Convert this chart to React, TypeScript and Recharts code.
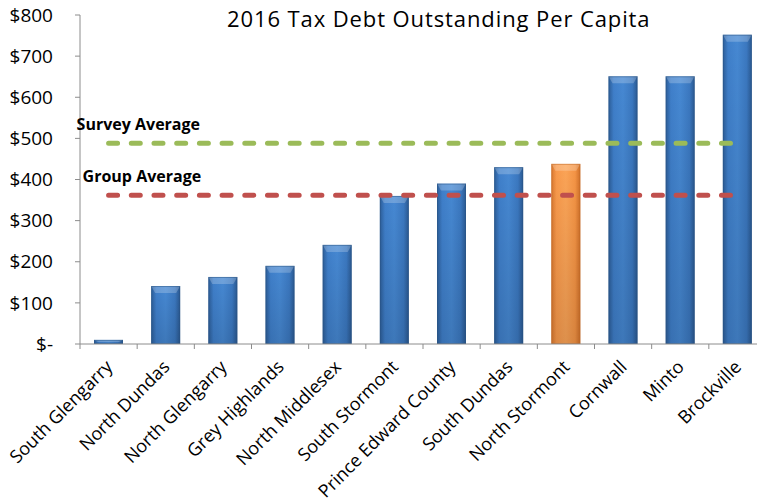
import { Bar, ComposedChart, Line, XAxis, YAxis } from 'recharts'

const towns = [
  'South Glengarry',
  'North Dundas',
  'North Glengarry',
  'Grey Highlands',
  'North Middlesex',
  'South Stormont',
  'Prince Edward County',
  'South Dundas',
  'North Stormont',
  'Cornwall',
  'Minto',
  'Brockville',
]
const debtPerCapita = [10, 141, 163, 190, 241, 360, 390, 430, 438, 651, 651, 752]
const surveyAverage = 488
const groupAverage = 362
const highlightTown = 'North Stormont'
const yTicks = [0, 100, 200, 300, 400, 500, 600, 700, 800]

const data = towns.map((town, i) => ({
  town,
  debt: debtPerCapita[i],
  survey: surveyAverage,
  group: groupAverage,
}))

const FONT = '"Open Sans", sans-serif'
const AXIS = '#8c8c8c'

function GlossyBar(props: any) {
  const { x, y, width, height, payload } = props
  if (!height || height <= 0) return <g />
  const hi = payload.town === highlightTown
  const bevel = Math.min(7, height / 2)
  return (
    <g>
      <rect x={x} y={y} width={width} height={height} fill={hi ? 'url(#orangeH)' : 'url(#blueH)'} />
      <rect x={x} y={y} width={width} height={height} fill="url(#shadeV)" />
      <polygon
        points={`${x},${y} ${x + width},${y} ${x + width - 4},${y + bevel} ${x + 4},${y + bevel}`}
        fill="#ffffff"
        opacity={0.22}
      />
      <rect x={x + 0.5} y={y + 0.5} width={width - 1} height={height - 1} fill="none" stroke={hi ? '#c06a25' : '#2a5585'} strokeOpacity={0.5} />
    </g>
  )
}

function TownTick(props: any) {
  const { x, y, payload, index } = props
  const half = payload.offset || 28.6
  const last = index === towns.length - 1
  const ax = x + 5
  const ay = y + 24
  return (
    <g>
      <line x1={x - half} y1={y} x2={x - half} y2={y + 5} stroke={AXIS} />
      {last && <line x1={x + half} y1={y} x2={x + half} y2={y + 5} stroke={AXIS} />}
      <text
        x={ax}
        y={ay}
        transform={`rotate(-45, ${ax}, ${ay})`}
        textAnchor="end"
        fontFamily={FONT}
        fontSize={18}
        fill="#000"
      >
        {payload.value}
      </text>
    </g>
  )
}

function averageTag(text: string, dx: number) {
  return (p: any) =>
    p.index === 0 ? (
      <text x={p.x + dx} y={p.y - 13} fontFamily={FONT} fontWeight={700} fontSize={16} fill="#000">
        {text}
      </text>
    ) : (
      <g />
    )
}

export default function App() {
  return (
    <div style={{ position: 'absolute', left: 0, top: 0, width: 757, height: 504, overflow: 'hidden', background: '#fff' }}>
      <svg width={0} height={0} style={{ position: 'absolute' }}>
        <defs>
          <linearGradient id="blueH" x1="0" y1="0" x2="1" y2="0">
            <stop offset="0%" stopColor="#2c5d98" />
            <stop offset="18%" stopColor="#3f7fca" />
            <stop offset="50%" stopColor="#4688d2" />
            <stop offset="82%" stopColor="#3b78c0" />
            <stop offset="100%" stopColor="#2a5890" />
          </linearGradient>
          <linearGradient id="orangeH" x1="0" y1="0" x2="1" y2="0">
            <stop offset="0%" stopColor="#d9782f" />
            <stop offset="18%" stopColor="#f99a4c" />
            <stop offset="50%" stopColor="#fba457" />
            <stop offset="82%" stopColor="#f49445" />
            <stop offset="100%" stopColor="#cf6f28" />
          </linearGradient>
          <linearGradient id="shadeV" x1="0" y1="0" x2="0" y2="1">
            <stop offset="0%" stopColor="#000" stopOpacity={0} />
            <stop offset="100%" stopColor="#000" stopOpacity={0.12} />
          </linearGradient>
        </defs>
      </svg>
      <div
        style={{
          position: 'absolute',
          left: 227,
          top: 3,
          whiteSpace: 'nowrap',
          fontFamily: FONT,
          fontSize: 22,
          letterSpacing: 0.9,
          color: '#000',
          zIndex: 2,
        }}
      >
        2016 Tax Debt Outstanding Per Capita
      </div>
      <ComposedChart width={770} height={504} data={data} margin={{ top: 15, right: 4, left: 0, bottom: 0 }}>
        <XAxis
          dataKey="town"
          height={160}
          interval={0}
          tickLine={false}
          tickSize={0}
          tickMargin={0}
          axisLine={{ stroke: AXIS }}
          tick={<TownTick />}
        />
        <YAxis
          width={80}
          domain={[0, 800]}
          ticks={yTicks}
          interval={0}
          tickSize={5}
          tickMargin={22}
          axisLine={{ stroke: AXIS }}
          tickLine={{ stroke: AXIS }}
          tick={{ fontFamily: FONT, fontSize: 19, fill: '#000' }}
          tickFormatter={(v: number) => (v === 0 ? '$-' : `$${v}`)}
        />
        <Bar dataKey="debt" barSize={29} shape={<GlossyBar />} isAnimationActive={false} />
        <Line
          dataKey="survey"
          stroke="#9bbb59"
          strokeWidth={5}
          strokeDasharray="9 13.7"
          strokeLinecap="round"
          dot={false}
          activeDot={false}
          label={averageTag('Survey Average', -32)}
          isAnimationActive={false}
        />
        <Line
          dataKey="group"
          stroke="#c0504d"
          strokeWidth={5}
          strokeDasharray="9 13.7"
          strokeLinecap="round"
          dot={false}
          activeDot={false}
          label={averageTag('Group Average', -26)}
          isAnimationActive={false}
        />
      </ComposedChart>
    </div>
  )
}
